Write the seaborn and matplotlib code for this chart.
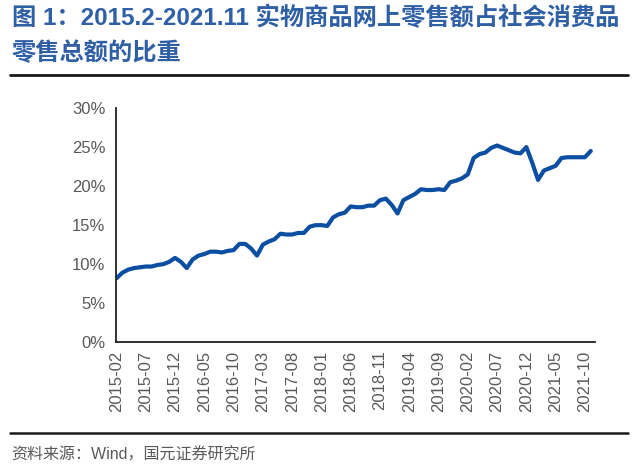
"""
Share of online physical goods retail in total retail sales, 2015.2-2021.11.
"""
import numpy as np
import pandas as pd
import matplotlib
matplotlib.use('Agg')
import matplotlib.pyplot as plt
from matplotlib.lines import Line2D
import seaborn as sns

# monthly values, 2015-02 .. 2021-11 (%)
months = pd.period_range('2015-02', '2021-11', freq='M').strftime('%Y-%m').tolist()
share_2015 = [8.2, 8.9, 9.3, 9.5, 9.6, 9.7, 9.7, 9.9, 10.0, 10.3, 10.8]
share_2016 = [10.3, 9.5, 10.6, 11.1, 11.3, 11.6, 11.6, 11.5, 11.7, 11.8, 12.6, 12.6]
share_2017 = [12.0, 11.1, 12.5, 12.9, 13.2, 13.9, 13.8, 13.8, 14.0, 14.0, 14.8, 15.0]
share_2018 = [15.0, 14.9, 16.0, 16.4, 16.6, 17.4, 17.3, 17.3, 17.5, 17.5, 18.2, 18.4]
share_2019 = [17.6, 16.5, 18.2, 18.6, 19.0, 19.6, 19.5, 19.5, 19.6, 19.5, 20.5, 20.7]
share_2020 = [21.0, 21.5, 23.6, 24.1, 24.3, 24.9, 25.2, 24.9, 24.6, 24.3, 24.2, 25.0]
share_2021 = [23.0, 20.8, 22.0, 22.3, 22.6, 23.6, 23.7, 23.7, 23.7, 23.7, 24.5]
share = share_2015 + share_2016 + share_2017 + share_2018 + share_2019 + share_2020 + share_2021

tick_step = 5
y_ticks = [0, 5, 10, 15, 20, 25, 30]

title_text = '图 1：2015.2-2021.11 实物商品网上零售额占社会消费品\n零售总额的比重'
source_text = '资料来源：Wind，国元证券研究所'

df = pd.DataFrame({'idx': np.arange(len(share)), 'month': months, 'share': share})

sns.set_style('white')
plt.rcParams['font.family'] = ['Liberation Sans', 'Noto Sans CJK SC', 'DejaVu Sans']

fig = plt.figure(figsize=(6.4, 4.74), dpi=100)
ax = fig.add_axes([0.182, 0.278, 0.748, 0.494])

sns.lineplot(data=df, x='idx', y='share', ax=ax, color='#0B4EA2', linewidth=3.0,
             solid_capstyle='round', solid_joinstyle='round')

ax.set_xlim(0, 81.76)
ax.set_ylim(0, 30)
tick_idx = list(range(0, len(months), tick_step))
ax.set_xticks(tick_idx)
ax.set_xticklabels([months[i] for i in tick_idx], rotation=90)
ax.set_yticks(y_ticks)
ax.set_yticklabels([f'{v}%' for v in y_ticks])
ax.set_xlabel('')
ax.set_ylabel('')

for s in ['top', 'right']:
    ax.spines[s].set_visible(False)
for s in ['left', 'bottom']:
    ax.spines[s].set_color('#222222')
    ax.spines[s].set_linewidth(1.3)
ax.tick_params(axis='both', direction='in', length=4, width=1.1, color='#222222',
               labelsize=12, labelcolor='#595959')
ax.tick_params(axis='x', pad=6)
ax.tick_params(axis='y', pad=8)

fig.text(0.018, 0.988, title_text, ha='left', va='top', fontsize=17.5,
         fontweight='bold', color='#2F5FA5', linespacing=1.6)

fig.add_artist(Line2D([0.016, 0.982], [0.841, 0.841], transform=fig.transFigure,
                      color='#1a1a1a', linewidth=2.0))
fig.add_artist(Line2D([0.016, 0.982], [0.087, 0.087], transform=fig.transFigure,
                      color='#1a1a1a', linewidth=1.8))

fig.text(0.018, 0.040, source_text, ha='left', va='center', fontsize=11.5,
         color='#595959')

fig.savefig('out.png', dpi=100)
